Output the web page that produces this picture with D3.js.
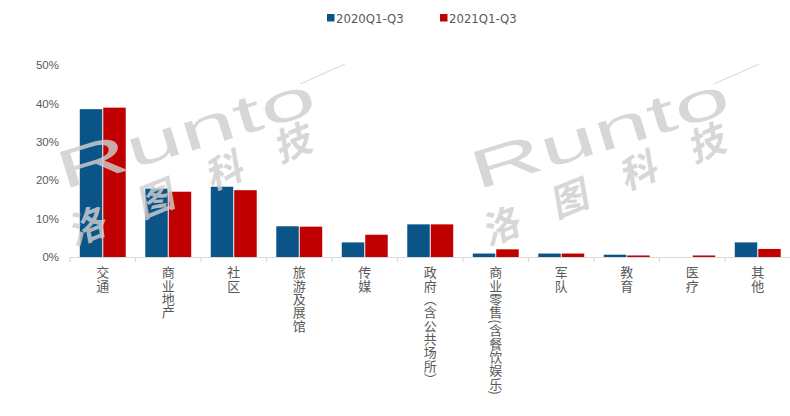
<!DOCTYPE html>
<html><head><meta charset="utf-8">
<script src="https://cdn.jsdelivr.net/npm/d3@7/dist/d3.min.js"></script>
<style>
html,body{margin:0;padding:0;background:#fff;}
svg{display:block;}
</style></head>
<body>
<svg id="chart" width="790" height="416"></svg>
<script>
const categories = ["交通","商业地产","社区","旅游及展馆","传媒","政府（含公共场所）","商业零售(含餐饮娱乐)","军队","教育","医疗","其他"];
const seriesNames = ["2020Q1-Q3","2021Q1-Q3"];
const values2020 = [38.5, 17.8, 18.3, 8.0, 3.8, 8.5, 0.9, 0.9, 0.6, 0.0, 3.8];
const values2021 = [38.9, 17.0, 17.4, 7.9, 5.8, 8.5, 2.0, 0.9, 0.4, 0.4, 2.1];
const yTicks = [0, 10, 20, 30, 40, 50];
const colors = ["#0b5488", "#c00000"];

const svg = d3.select("#chart");
const x = d3.scaleBand().domain(categories).range([70, 790.5]).paddingInner(0).paddingOuter(0);
const y = d3.scaleLinear().domain([0, 50]).range([257, 65]);
const bw = x.bandwidth() * 0.343;
const gap = 1;
const off = (x.bandwidth() - 2 * bw - gap) / 2;

// y axis labels
const yAxis = d3.axisLeft(y).tickValues(yTicks).tickFormat(d => d + "%").tickSize(0).tickPadding(0);
const gy = svg.append("g").attr("transform", "translate(59,0)").call(yAxis);
gy.select(".domain").remove();
gy.selectAll("text").attr("fill", "#595959").style("font-family", "'Liberation Sans', Arial, sans-serif").style("font-size", "11.5px");

// bars
const series = [values2020, values2021];
series.forEach((vals, si) => {
  svg.append("g").selectAll("rect").data(categories).join("rect")
    .attr("x", d => x(d) + off + si * (bw + gap))
    .attr("y", (d, i) => y(vals[i]))
    .attr("width", bw)
    .attr("height", (d, i) => y(0) - y(vals[i]))
    .attr("fill", colors[si]);
});

// x axis
const xAxis = d3.axisBottom(x).tickSize(0).tickFormat("");
const gx = svg.append("g").attr("transform", "translate(0,257)").call(xAxis);
gx.select(".domain").attr("stroke", "#d9d9d9").attr("stroke-width", 1.2);
gx.selectAll(".tick").remove();
const bounds = categories.map(c => x(c)).concat([x(categories[categories.length-1]) + x.bandwidth()]);
gx.selectAll("line.sep").data(bounds.slice(0, -1)).join("line").attr("class","sep")
  .attr("x1", d => d).attr("x2", d => d).attr("y1", 0).attr("y2", 5)
  .attr("stroke", "#d9d9d9").attr("stroke-width", 1.2);

// category labels, vertical
svg.append("g").selectAll("text").data(categories).join("text")
  .attr("x", d => x(d) + x.bandwidth() / 2)
  .attr("y", 266)
  .style("writing-mode", "vertical-rl")
  .style("font-family", "'Noto Sans CJK SC', sans-serif")
  .style("font-size", "13px")
  .style("letter-spacing", "0.3px")
  .attr("fill", "#595959")
  .text(d => d);

// legend
const lg = svg.append("g");
const legendX = [327, 440];
seriesNames.forEach((n, i) => {
  lg.append("rect").attr("x", legendX[i]).attr("y", 14).attr("width", 7.5).attr("height", 7.5).attr("fill", colors[i]);
  lg.append("text").attr("x", legendX[i] + 9).attr("y", 22.5)
    .style("font-family", "'DejaVu Sans Condensed', 'DejaVu Sans', sans-serif")
    .style("font-size", "13px").attr("fill", "#595959").text(n);
});

// watermark (decorative)
function watermark(dx) {
  const g = svg.append("g").attr("transform", `translate(${dx},0)`).attr("opacity", 0.82).attr("fill", "#cfcfcf");
  g.append("text").attr("transform", "translate(63,190) rotate(-17)")
    .attr("textLength", 268).attr("lengthAdjust", "spacingAndGlyphs")
    .style("font-family", "'Liberation Sans', Arial, sans-serif").style("font-size", "54px")
    .text("Runto");
  g.append("line").attr("x1", 300).attr("y1", 84).attr("x2", 345).attr("y2", 64)
    .attr("stroke", "#cfcfcf").attr("stroke-width", 1);
  g.append("text").attr("transform", "translate(74,246) rotate(-22) skewX(-12)")
    .style("font-family", "'Noto Sans CJK SC', sans-serif").style("font-size", "37px").style("font-weight", "bold")
    .style("letter-spacing", "37px")
    .text("洛图科技");
}
watermark(0);
watermark(414);
</script>
</body></html>
